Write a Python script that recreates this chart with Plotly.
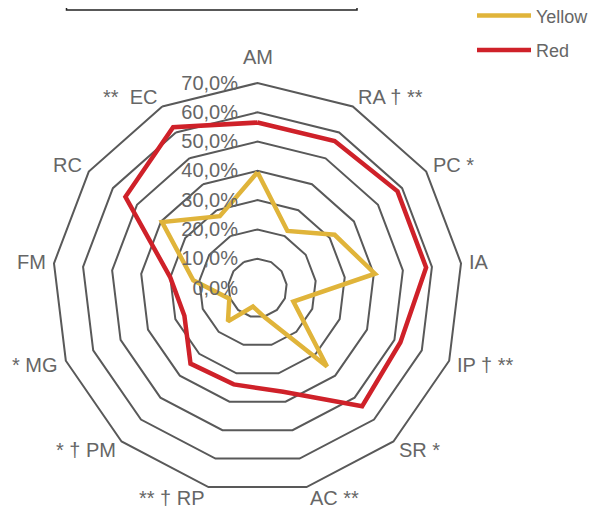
import math
import plotly.graph_objects as go

categories = ["AM", "RA † **", "PC *", "IA", "IP † **", "SR *", "AC **",
              "** † RP", "* † PM", "* MG", "FM", "RC", "**  EC"]
yellow_values = [39.5, 22.0, 32.0, 40.4, 13.1, 35.8, 10.3, 6.5, 15.2, 10.3, 22.1, 39.6, 27.7]
red_values = [56.5, 56.7, 58.1, 58.0, 52.2, 53.9, 36.5, 33.9, 34.5, 26.7, 30.0, 54.8, 62.0]
radial_ticks = [0, 10, 20, 30, 40, 50, 60, 70]
radial_tick_text = ["0,0%", "10,0%", "20,0%", "30,0%", "40,0%", "50,0%", "60,0%", "70,0%"]
series_names = ["Yellow", "Red"]
series_colors = ["#E0B43A", "#CF2129"]

GRAY = "#595959"
TEXT = "#666666"
FONT = "Liberation Sans, Arial, sans-serif"

# page body has an 8px margin: figure pixels = page pixels - 8
W, H = 595, 514
CX, CY, R = 249.5, 280.0, 205.0

fig = go.Figure()
for name, vals, col in zip(series_names, [yellow_values, red_values], series_colors):
    fig.add_trace(go.Scatterpolar(
        r=vals + vals[:1],
        theta=categories + categories[:1],
        mode="lines",
        name=name,
        legendgroup=name,
        line=dict(color=col, width=4.5),
    ))

# category labels placed just outside the outer polygon's vertices
annotations = []
n = len(categories)
for i, lab in enumerate(categories):
    a = 2 * math.pi * i / n
    s, c = math.sin(a), math.cos(a)
    vx, vy = CX + R * s, CY - R * c
    if abs(s) < 0.1:
        x, y, xa, ya = vx, vy - 13, "center", "bottom"
    else:
        x = vx + 6 * s
        y = vy - 11 * c
        xa, ya = ("left" if s > 0 else "right"), "middle"
    annotations.append(dict(
        text=lab, x=x / W, y=1 - y / H, xref="paper", yref="paper",
        xanchor=xa, yanchor=ya, showarrow=False,
        font=dict(size=20, color=TEXT, family=FONT),
    ))

fig.update_layout(
    width=W, height=H,
    margin=dict(l=0, r=0, t=0, b=0, autoexpand=False),
    paper_bgcolor="white",
    font=dict(family=FONT, color=TEXT, size=20),
    polar=dict(
        domain=dict(x=[(CX - R) / W, (CX + R) / W], y=[1 - (CY + R) / H, 1 - (CY - R) / H]),
        bgcolor="white",
        gridshape="linear",
        radialaxis=dict(
            range=[0, 70],
            tickvals=radial_ticks,
            ticktext=radial_tick_text,
            angle=90,
            tickangle=90,
            side="counterclockwise",
            showline=False,
            showgrid=True,
            gridcolor=GRAY,
            gridwidth=2,
            ticks="outside",
            ticklen=12,
            tickcolor="rgba(0,0,0,0)",
            tickfont=dict(size=20, color=TEXT),
        ),
        angularaxis=dict(
            direction="clockwise",
            rotation=90,
            showgrid=False,
            showline=True,
            linecolor=GRAY,
            linewidth=2,
            ticks="",
            showticklabels=False,
        ),
    ),
    legend=dict(
        x=464 / W, y=1 + 10.7 / H, xanchor="left", yanchor="top",
        font=dict(size=18, color=TEXT),
        tracegroupgap=8,
        itemwidth=54,
        bgcolor="rgba(0,0,0,0)",
    ),
    annotations=annotations,
    shapes=[dict(type="rect", xref="paper", yref="paper",
                 x0=58.5 / W, x1=349 / W, y0=1 - 2 / H, y1=1.1,
                 line=dict(color="#222222", width=1.5), fillcolor="white")],
)

fig.write_html("out.html")
